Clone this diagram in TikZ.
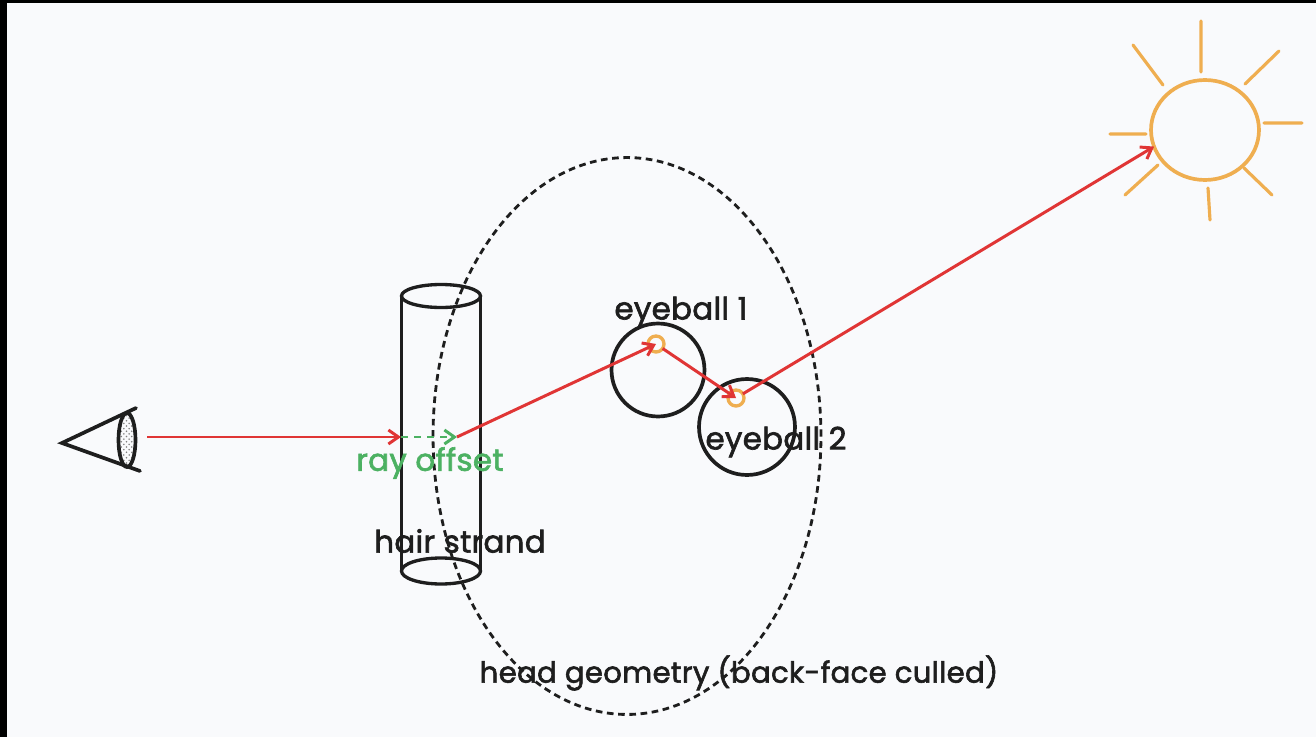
\documentclass[tikz,border=0pt]{standalone}
\usepackage{fontspec}
\setmainfont{Poppins}
\usetikzlibrary{positioning, arrows.meta, shapes.geometric, patterns}
\definecolor{pagebg}{HTML}{F9FAFC}
\definecolor{rayred}{HTML}{E03535}
\definecolor{sunorange}{HTML}{EFAE50}
\definecolor{offsetgreen}{HTML}{4CB162}
\definecolor{inkblack}{HTML}{1E1E1E}
\tikzset{
    every ball/.style={
        draw=inkblack,
        circle,
        line width=2.1pt,
        minimum size=1.86cm,
        inner sep=0pt,
        outer sep=0pt
    },
    hitpoint/.style={
        draw=sunorange,
        circle,
        line width=1.9pt,
        minimum size=0.32cm,
        inner sep=0pt,
        outer sep=0pt
    },
    capring/.style={
        draw=inkblack,
        ellipse,
        line width=1.9pt,
        minimum width=1.58cm,
        minimum height=0.46cm,
        inner sep=0pt,
        outer sep=0pt
    },
    label/.style={
        text=inkblack,
        font=\fontsize{17.6}{19}\selectfont\addfontfeatures{LetterSpace=1,FakeBold=2}
    }
}

\begin{document}
\begin{tikzpicture}[x=0.02cm, y=-0.02cm]
            % Help lines :
            % \draw [help lines] (0,0) grid (1316,737);
            \useasboundingbox (0,0) rectangle (1316,737);
            \fill [black] (0,0) rectangle (1316,737);
            \fill [pagebg] (7,3) rectangle (1316,737);

            % Shapes
            \node (head) [
                draw=inkblack,
                dashed,
                dash pattern=on 3.8pt off 2.6pt,
                ellipse,
                line width=1.6pt,
                minimum width=7.76cm,
                minimum height=11.14cm,
                inner sep=0pt,
            ] at (627,436) {};
            \node (eyeTip) [inner sep=0pt] at (62,443) {};
            \node (lidUpper) [inner sep=0pt] at (136,408) {};
            \node (lidLower) [inner sep=0pt] at (140,471) {};
            \node (lens) [
                draw=inkblack,
                ellipse,
                line width=2.1pt,
                pattern=crosshatch dots,
                pattern color=gray,
                minimum width=0.34cm,
                minimum height=1.08cm,
                inner sep=0pt,
            ] at (127,440) {};
            \node (strandTop) [capring] at (441,296) {};
            \node (strandBottom) [capring, minimum height=0.52cm] at (441,571) {};
            \node (ball1) [every ball] at (658,370) {};
            \node (ball2) [every ball, minimum size=1.92cm] at (747,427) {};
            \node (hit1) [hitpoint] at (656,344) {};
            \node (hit2) [hitpoint] at (736,398) {};
            \node (sun) [
                draw=sunorange,
                ellipse,
                line width=2.1pt,
                minimum width=2.16cm,
                minimum height=2cm,
                inner sep=0pt,
                outer sep=0pt,
            ] at (1205,130) {};

            % Sun rays
            \draw [sunorange, line width=1.8pt, line cap=round]
                (1201,72) -- (1201,21)
                (1245,84) -- (1279,51)
                (1264,123) -- (1302,123)
                (1244,168) -- (1272,195)
                (1208,188) -- (1210,220)
                (1158,165) -- (1125,195)
                (1146,134) -- (1110,134)
                (1163,85) -- (1133,45);

            % Ray anchors
            \node (rayStart) [inner sep=0pt] at (147,437) {};
            \node (strandEntry) [inner sep=0pt] at (401,437) {};
            \node (offsetEnd) [inner sep=0pt] at (457,437) {};

            % Edges
            \draw [inkblack, line width=2.1pt, line cap=round]
                (lidUpper.center) -- (eyeTip.center) -- (lidLower.center);
            \draw [inkblack, line width=1.5pt]
                (strandTop.west) -- (strandBottom.west)
                (strandTop.east) -- (strandBottom.east);
            \path [-{Straight Barb[length=2mm,width=2.8mm]}, rayred, line width=1.7pt]
                (rayStart.center) edge (strandEntry.center)
                (offsetEnd.center) edge (hit1.center)
                (hit1) edge (hit2.center)
                (hit2) edge (sun.198)
            ;
            \path [-{Straight Barb[length=2mm,width=2.8mm]}, offsetgreen, line width=1.7pt, dashed, dash pattern=on 4pt off 3.4pt]
                (strandEntry.center) edge (offsetEnd.center)
            ;

            % Labels
            \node (offsetLabel) [label, text=offsetgreen] at (430,463) {ray offset};
            \node (strandLabel) [label] at (460,541) {hair strand};
            \node (ball1Label) [label] at (681,312) {eyeball 1};
            \node (ball2Label) [label] at (776,442) {eyeball 2};
            \node (headLabel) [
                label,
                font=\fontsize{16.6}{18}\selectfont\addfontfeatures{LetterSpace=1,FakeBold=2},
            ] at (739,673) {head geometry (back-face culled)};
\end{tikzpicture}
\end{document}
